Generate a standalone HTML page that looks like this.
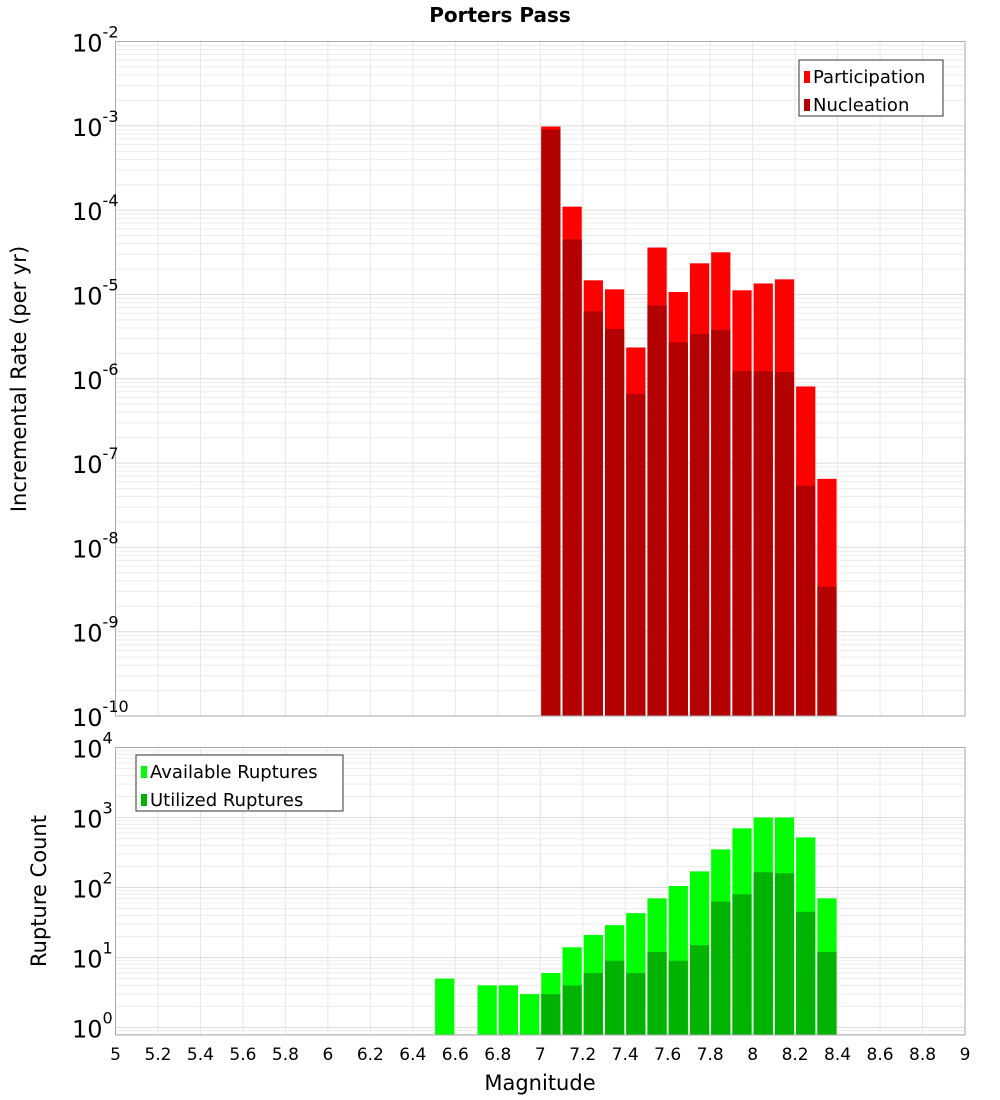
<!DOCTYPE html>
<html><head><meta charset="utf-8"><style>
body{margin:0;background:#fff;}
svg{display:block;font-family:"DejaVu Sans","Liberation Sans",sans-serif;}
</style></head><body>
<svg id="chart" width="1000" height="1100">
<text x="500" y="22" text-anchor="middle" font-size="20" font-weight="bold">Porters Pass</text>
<g id="topg"></g><g id="botg"></g><g id="xt"></g>
<text x="540" y="1090" text-anchor="middle" font-size="21">Magnitude</text>
<text transform="translate(26,379) rotate(-90)" text-anchor="middle" font-size="21">Incremental Rate (per yr)</text>
<text transform="translate(46,891) rotate(-90)" text-anchor="middle" font-size="21">Rupture Count</text>
</svg>
<script>
const mags=[7.0,7.1,7.2,7.3,7.4,7.5,7.6,7.7,7.8,7.9,8.0,8.1,8.2,8.3];
const participation=[9.8e-4,1.1e-4,1.47e-5,1.15e-5,2.35e-6,3.6e-5,1.07e-5,2.34e-5,3.16e-5,1.12e-5,1.35e-5,1.51e-5,8.1e-7,6.5e-8];
const nucleation=[9.0e-4,4.5e-5,6.3e-6,3.9e-6,6.6e-7,7.4e-6,2.7e-6,3.4e-6,3.8e-6,1.23e-6,1.23e-6,1.2e-6,5.4e-8,3.4e-9];
const magsB=[6.5,6.7,6.8,6.9,7.0,7.1,7.2,7.3,7.4,7.5,7.6,7.7,7.8,7.9,8.0,8.1,8.2,8.3];
const available=[5,4,4,3,6,14,21,29,43,70,105,170,350,700,1000,1000,520,70];
const utilized=[0,0,0,0,3,4,6,9,6,12,9,15,63,80,165,160,45,12];
const xTicks=[5,5.2,5.4,5.6,5.8,6,6.2,6.4,6.6,6.8,7,7.2,7.4,7.6,7.8,8,8.2,8.4,8.6,8.8,9];
const topExp=[-2,-3,-4,-5,-6,-7,-8,-9,-10];
const botExp=[4,3,2,1,0];
const NS='http://www.w3.org/2000/svg';
const L=115.5,R=965;
const X=m=>L+(m-5)*(R-L)/4;
const TT=41.5,TB=716,BT=747.5,BB=1035;
const YT=v=>TT+(-2-Math.log10(v))*(TB-TT)/8;
const YB=v=>1027.5-Math.log10(v)*70;
function el(p,t,a){const e=document.createElementNS(NS,t);for(const k in a)e.setAttribute(k,a[k]);p.appendChild(e);return e;}
function grid(g,t0,b0,yf,emin,emax){
 for(const t of xTicks){const l=el(g,'line',{x1:X(t),x2:X(t),y1:t0,y2:b0,stroke:'#e6e6e6'});
 
 }
 for(let e=emin;e<emax;e++)for(let k=1;k<10;k++){const y=yf(k*Math.pow(10,e));if(y<t0||y>b0)continue;
 const l=el(g,'line',{x1:L,x2:R,y1:y,y2:y,stroke:k==1?'#dcdcdc':'#ececec'});
 
 }
}
const gTop=document.getElementById('topg'),gBot=document.getElementById('botg'),xt=document.getElementById('xt');
grid(gTop,TT,TB,YT,-10,-2);
grid(gBot,BT,BB,YB,-1,4);
function bars(g,ms,vals,yf,base,fill,name){ms.forEach((m,i)=>{if(!vals[i])return;const y=yf(vals[i]);
 const r=el(g,'rect',{x:X(m)+1,y:y,width:X(m+0.1)-X(m)-2,height:base-y,fill:fill});
 
 });}
bars(gTop,mags,participation,YT,TB,'#ff0000','participation-bar');
bars(gTop,mags,nucleation,YT,TB,'#b30000','nucleation-bar');
bars(gBot,magsB,available,YB,BB,'#00ff00','available-bar');
bars(gBot,magsB,utilized,YB,BB,'#00b300','utilized-bar');
el(gTop,'rect',{x:L,y:TT,width:R-L,height:TB-TT,fill:'none',stroke:'#aaa'});
el(gBot,'rect',{x:L,y:BT,width:R-L,height:BB-BT,fill:'none',stroke:'#aaa'});
topExp.forEach(e=>{const t=el(gTop,'text',{x:72,y:YT(Math.pow(10,e))+10,'font-size':24});
 
 
 t.textContent='10';const s=el(t,'tspan',{dy:-14,'font-size':16});s.textContent=String(e);});
botExp.forEach(e=>{const t=el(gBot,'text',{x:72,y:YB(Math.pow(10,e))+10,'font-size':24});
 
 
 t.textContent='10';const s=el(t,'tspan',{dy:-14,'font-size':16});s.textContent=String(e);});
xTicks.forEach(v=>{const t=el(xt,'text',{x:X(v),y:1060,'text-anchor':'middle','font-size':17});
 
 
 t.textContent=String(v);});
function legend(g,x,y,w,items){const b=el(g,'rect',{x:x,y:y,width:w,height:56,fill:'#fff',stroke:'#333'});
 
 
 items.forEach((it,i)=>{el(g,'rect',{x:x+5,y:y+11+i*28,width:6,height:12,fill:it[1]});
 const t=el(g,'text',{x:x+14,y:y+23+i*28,'font-size':18});
 
 
 t.textContent=it[0];});}
legend(gTop,799,60,144,[['Participation','#ff0000'],['Nucleation','#b30000']]);
legend(gBot,136,755,207,[['Available Ruptures','#00ff00'],['Utilized Ruptures','#00b300']]);
</script>
</body></html>
